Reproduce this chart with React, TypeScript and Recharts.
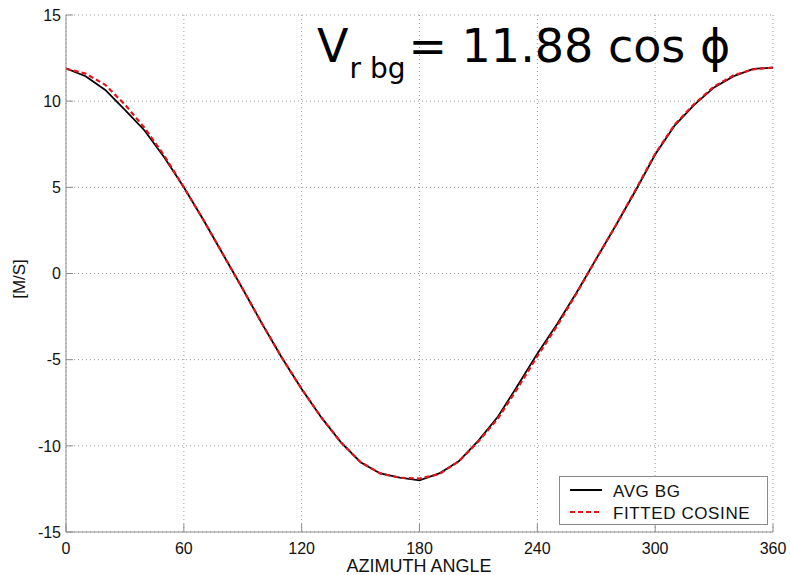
import { LineChart, Line, XAxis, YAxis, CartesianGrid, Legend } from "recharts";

const angles = [
  0, 10, 20, 30, 40, 50, 60, 70, 80, 90, 100, 110, 120, 130, 140, 150, 160, 170, 180,
  190, 200, 210, 220, 230, 240, 250, 260, 270, 280, 290, 300, 310, 320, 330, 340, 350, 360,
];
const avgBg = [
  11.9, 11.45, 10.65, 9.5, 8.3, 6.75, 5.0, 3.1, 1.1, -0.9, -2.95, -4.9, -6.7, -8.35, -9.8,
  -10.95, -11.6, -11.85, -12.0, -11.6, -10.9, -9.7, -8.3, -6.5, -4.65, -2.95, -1.1, 0.85,
  2.8, 4.8, 6.9, 8.6, 9.8, 10.8, 11.45, 11.87, 11.95,
];
const fittedCosine = [
  11.88, 11.6, 10.95, 9.8, 8.45, 6.85, 5.0, 3.1, 1.1, -0.9, -2.95, -4.9, -6.7, -8.35, -9.8,
  -10.95, -11.6, -11.85, -11.9, -11.65, -10.9, -9.75, -8.4, -6.65, -4.8, -3.05, -1.15, 0.85,
  2.8, 4.85, 6.95, 8.65, 9.85, 10.85, 11.5, 11.85, 11.95,
];
const xTicks = [0, 60, 120, 180, 240, 300, 360];
const yTicks = [-15, -10, -5, 0, 5, 10, 15];

const data = angles.map((angle, i) => ({
  angle,
  avg: avgBg[i],
  fit: fittedCosine[i],
}));

const series = [
  { key: "avg", name: "AVG BG", color: "#000000", width: 1.8, dash: undefined as string | undefined },
  { key: "fit", name: "FITTED COSINE", color: "#e4141b", width: 2.2, dash: "5 3" },
];

const tickFont = { fontFamily: "Liberation Sans, Arial, sans-serif", fontSize: 16, fill: "#111" };

function LegendBox() {
  return (
    <div
      style={{
        width: 209,
        height: 49,
        border: "1px solid #8a8a8a",
        background: "#fff",
        boxSizing: "border-box",
      }}
    >
      <svg width={207} height={47}>
        {series.map((s, i) => (
          <g key={s.key}>
            <line
              x1={10}
              x2={42}
              y1={13 + i * 22}
              y2={13 + i * 22}
              stroke={s.color}
              strokeWidth={2}
              strokeDasharray={s.dash}
            />
            <text
              x={53}
              y={20 + i * 22}
              fontFamily="Liberation Sans, Arial, sans-serif"
              fontSize={17}
              letterSpacing={0.6}
              fill="#111"
            >
              {s.name}
            </text>
          </g>
        ))}
      </svg>
    </div>
  );
}

export default function App() {
  return (
    <div style={{ position: "absolute", left: 0, top: 0, background: "#fff" }}>
      <LineChart
        width={790}
        height={575}
        data={data}
        margin={{ top: 15, right: 17, left: 0, bottom: 0 }}
      >
        <CartesianGrid stroke="#9a9a9a" strokeDasharray="1 3" />
        <XAxis
          dataKey="angle"
          type="number"
          domain={[0, 360]}
          ticks={xTicks}
          height={43}
          stroke="#8c8c8c"
          tickSize={-8}
          tickMargin={19}
          tick={tickFont}
          interval={0}
        />
        <YAxis
          type="number"
          domain={[-15, 15]}
          ticks={yTicks}
          width={66}
          stroke="#8c8c8c"
          tickSize={-7}
          tickMargin={12}
          tick={tickFont}
          interval={0}
        />
        {series.map((s) => (
          <Line
            key={s.key}
            dataKey={s.key}
            name={s.name}
            type="linear"
            stroke={s.color}
            strokeWidth={s.width}
            strokeDasharray={s.dash}
            dot={false}
            activeDot={false}
            isAnimationActive={false}
          />
        ))}
        <Legend
          layout="horizontal"
          verticalAlign="middle"
          align="center"
          content={() => <LegendBox />}
          wrapperStyle={{ left: 559, top: 476, width: 209, height: 49 }}
        />
        <text
          x={317}
          y={62}
          fontFamily="DejaVu Sans, sans-serif"
          fontSize={46}
          fill="#000"
        >
          V
          <tspan fontSize={28} dx={1} dy={16}>
            r bg
          </tspan>
          <tspan fontSize={46} dx={3} dy={-16}>
            = 11.88 cos ϕ
          </tspan>
        </text>
        <text
          x={419}
          y={572}
          textAnchor="middle"
          fontFamily="Liberation Sans, Arial, sans-serif"
          fontSize={18}
          fill="#111"
        >
          AZIMUTH ANGLE
        </text>
        <text
          x={25}
          y={279}
          textAnchor="middle"
          transform="rotate(-90 25 279)"
          fontFamily="Liberation Sans, Arial, sans-serif"
          fontSize={17}
          fill="#111"
        >
          [M/S]
        </text>
      </LineChart>
    </div>
  );
}
